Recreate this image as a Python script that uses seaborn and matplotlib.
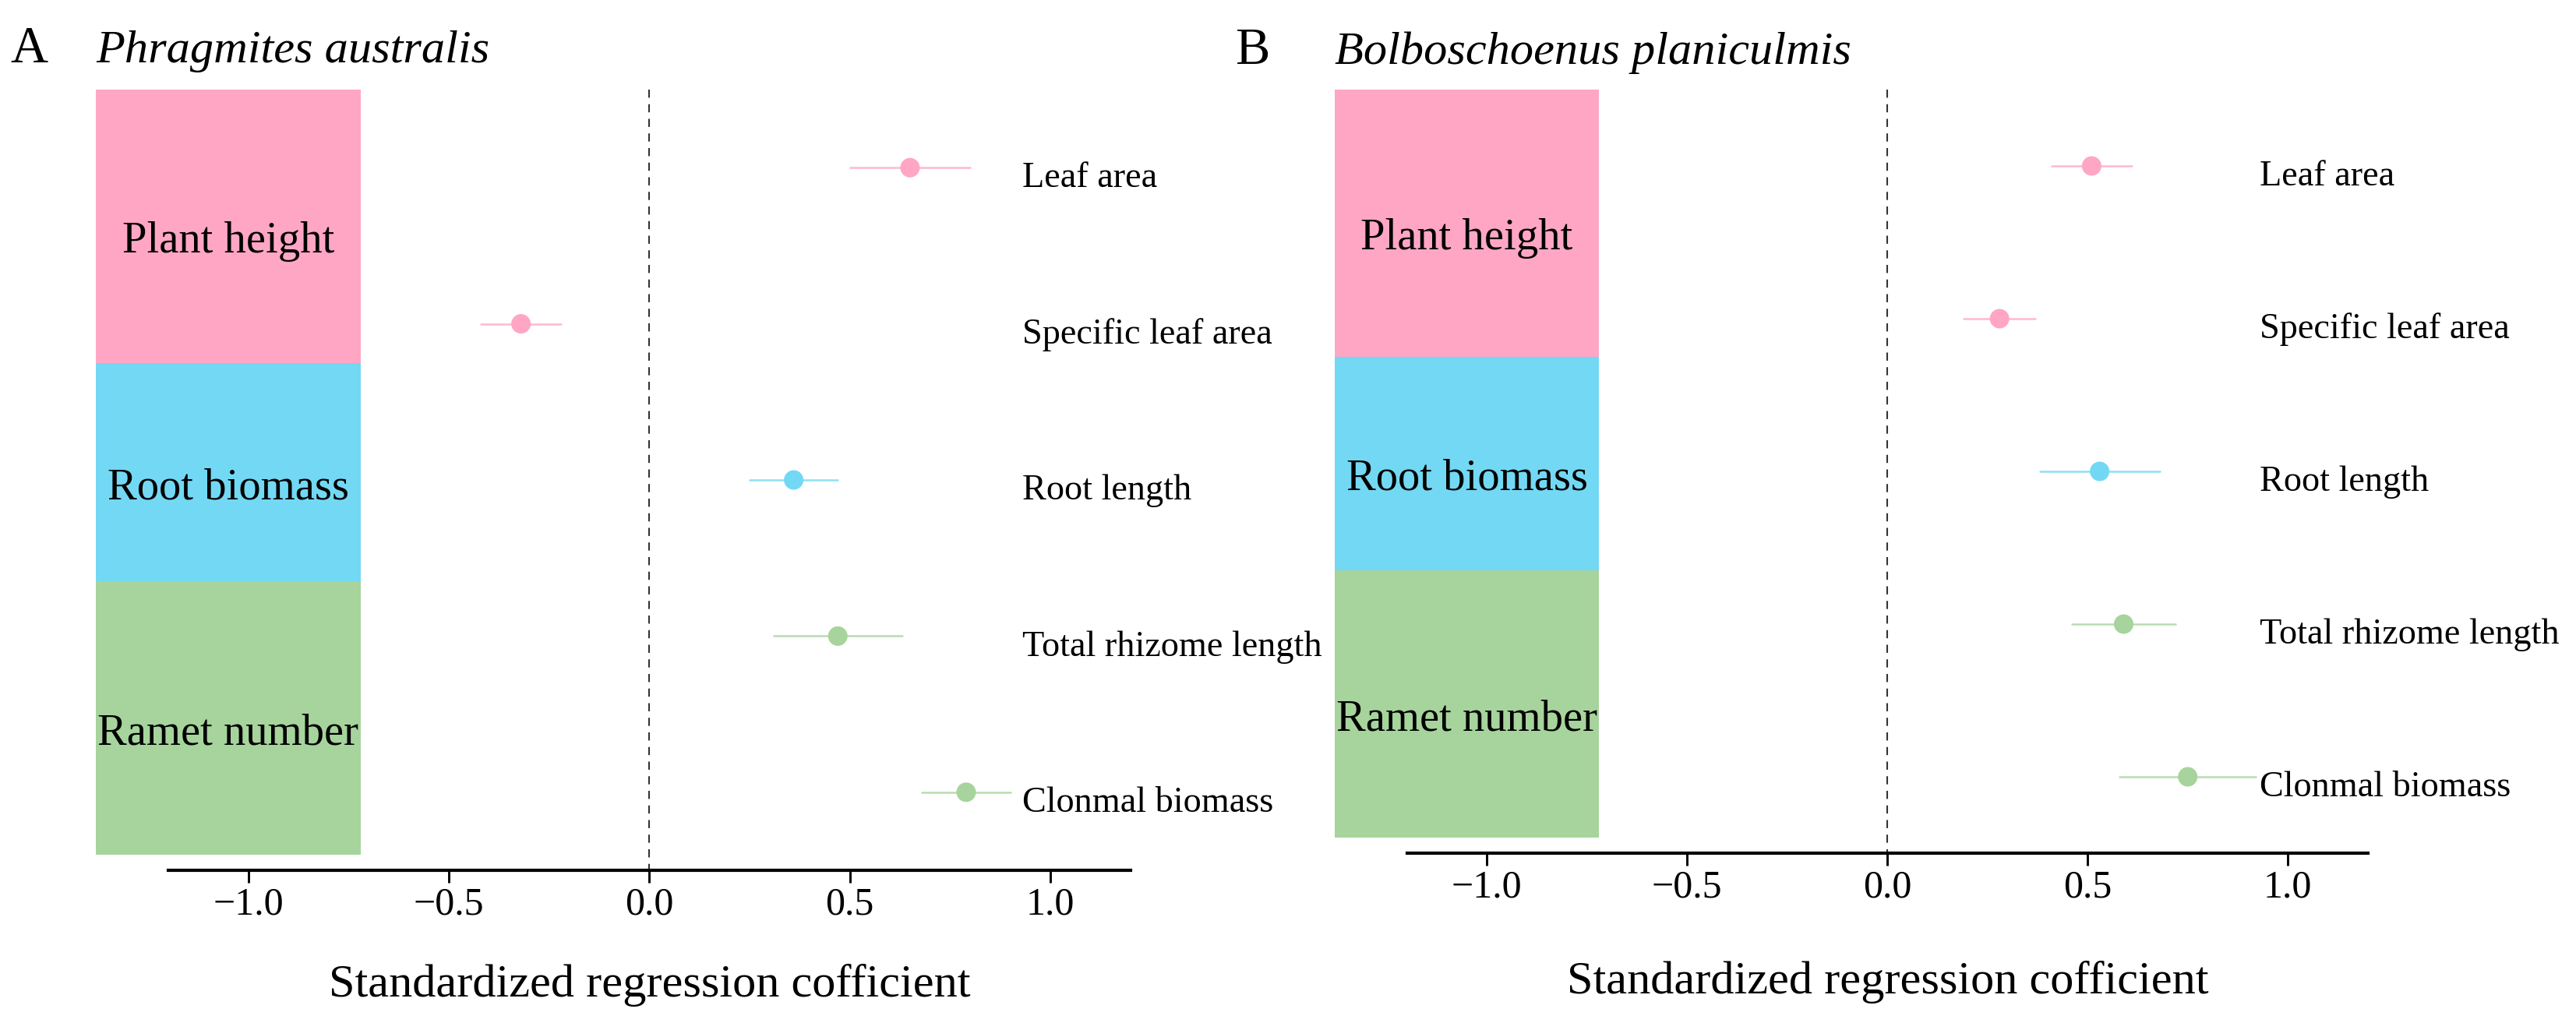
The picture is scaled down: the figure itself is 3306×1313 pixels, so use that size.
import numpy as np
import pandas as pd
import matplotlib
matplotlib.use("Agg")
import matplotlib.pyplot as plt
import matplotlib.transforms as mtransforms
import seaborn as sns

# ---------------- data ----------------
traits = ["Leaf area", "Specific leaf area", "Root length",
          "Total rhizome length", "Clonmal biomass"]
trait_group = ["Plant height", "Plant height", "Root biomass",
               "Ramet number", "Ramet number"]

coef_A = [0.65, -0.32, 0.36, 0.47, 0.79]
low_A = [0.50, -0.42, 0.25, 0.31, 0.68]
high_A = [0.80, -0.22, 0.47, 0.63, 0.90]

coef_B = [0.51, 0.28, 0.53, 0.59, 0.75]
low_B = [0.41, 0.19, 0.38, 0.46, 0.58]
high_B = [0.61, 0.37, 0.68, 0.72, 0.92]

groups = ["Plant height", "Root biomass", "Ramet number"]
group_top = [0.5, 2.25, 3.65]
group_bottom = [2.25, 3.65, 5.4]

panel_letters = ["A", "B"]
species = ["Phragmites australis", "Bolboschoenus planiculmis"]
xticks = [-1.0, -0.5, 0.0, 0.5, 1.0]
xlabel = "Standardized regression cofficient"

# ---------------- style ----------------
sns.set_theme(style="white")
plt.rcParams["font.family"] = ["Liberation Serif", "DejaVu Serif"]
plt.rcParams["axes.unicode_minus"] = True
plt.rcParams["text.color"] = "black"
plt.rcParams["xtick.color"] = "black"
plt.rcParams["xtick.labelcolor"] = "black"

palette = {"Plant height": "#FFA6C5", "Root biomass": "#73D8F3",
           "Ramet number": "#A6D49C"}

W, H = 3306, 1313
DPI = 300
fig = plt.figure(figsize=(W / DPI, H / DPI), dpi=DPI)

# axes boxes in pixels: left, right, top, bottom
boxes = [(123, 1451, 115, 1117), (1713, 3039, 115, 1095)]
xlab_y = [1265, 1261]
title_base = [80, 82]
letter_x = [13, 1585]

datasets = [(coef_A, low_A, high_A), (coef_B, low_B, high_B)]

for k in range(2):
    l, r, t, b = boxes[k]
    ax = fig.add_axes([l / W, 1 - b / H, (r - l) / W, (b - t) / H])
    coef, lo, hi = datasets[k]
    df = pd.DataFrame({"trait": traits, "group": trait_group,
                       "coef": coef, "low": lo, "high": hi})
    df["pos"] = np.arange(1, len(traits) + 1)

    # group blocks
    for g, gt, gb in zip(groups, group_top, group_bottom):
        ax.barh(y=(gt + gb) / 2, width=0.66, left=-1.38, height=gb - gt,
                color=palette[g], edgecolor="none", zorder=1)
        ax.text(-1.05, (gt + gb) / 2 + 0.1, g, ha="center", va="center",
                fontsize=13.6, color="black", zorder=3)

    # zero line
    ax.plot([0, 0], [0.5, 5.5], ls=(0, (5, 4)), color="#333333", lw=0.5,
            zorder=1)

    # confidence intervals
    for _, row in df.iterrows():
        ax.plot([row["low"], row["high"]], [row["pos"], row["pos"]],
                color=palette[row["group"]], lw=0.6, alpha=0.8, zorder=2)

    sns.scatterplot(data=df, x="coef", y="pos", hue="group", palette=palette,
                    s=36, edgecolor="none", legend=False, ax=ax, zorder=4)

    for _, row in df.iterrows():
        ax.text(0.93, row["pos"] + 0.07, row["trait"], ha="left",
                va="center", fontsize=11.1, color="black", clip_on=False)

    ax.set_xlim(-1.38, 1.2)
    ax.set_ylim(5.5, 0.5)
    ax.set_xlabel("")
    ax.set_ylabel("")
    ax.set_yticks([])
    ax.set_xticks(xticks)
    ax.set_xticklabels([f"{v:.1f}".replace("-", "\u2212") for v in xticks])
    for s in ["left", "top", "right"]:
        ax.spines[s].set_visible(False)
    ax.spines["bottom"].set_bounds(-1.2, 1.2)
    ax.spines["bottom"].set_linewidth(1.0)
    ax.spines["bottom"].set_color("black")
    ax.tick_params(axis="x", bottom=True, length=3.8, width=0.7,
                   color="black", labelcolor="black", labelsize=12, pad=1.2)
    ax.patch.set_visible(False)

    trans = mtransforms.blended_transform_factory(ax.transData,
                                                  fig.transFigure)
    ax.text(0, 1 - xlab_y[k] / H, xlabel, transform=trans, ha="center",
            va="center", fontsize=14.5, color="black")

    fig.text(letter_x[k] / W, 1 - title_base[k] / H, panel_letters[k],
             ha="left", va="baseline", fontsize=16, color="black")
    fig.text(l / W, 1 - title_base[k] / H, species[k], ha="left",
             va="baseline", fontsize=14.5, style="italic", color="black")

fig.savefig("out.png", dpi=DPI, facecolor="white")
